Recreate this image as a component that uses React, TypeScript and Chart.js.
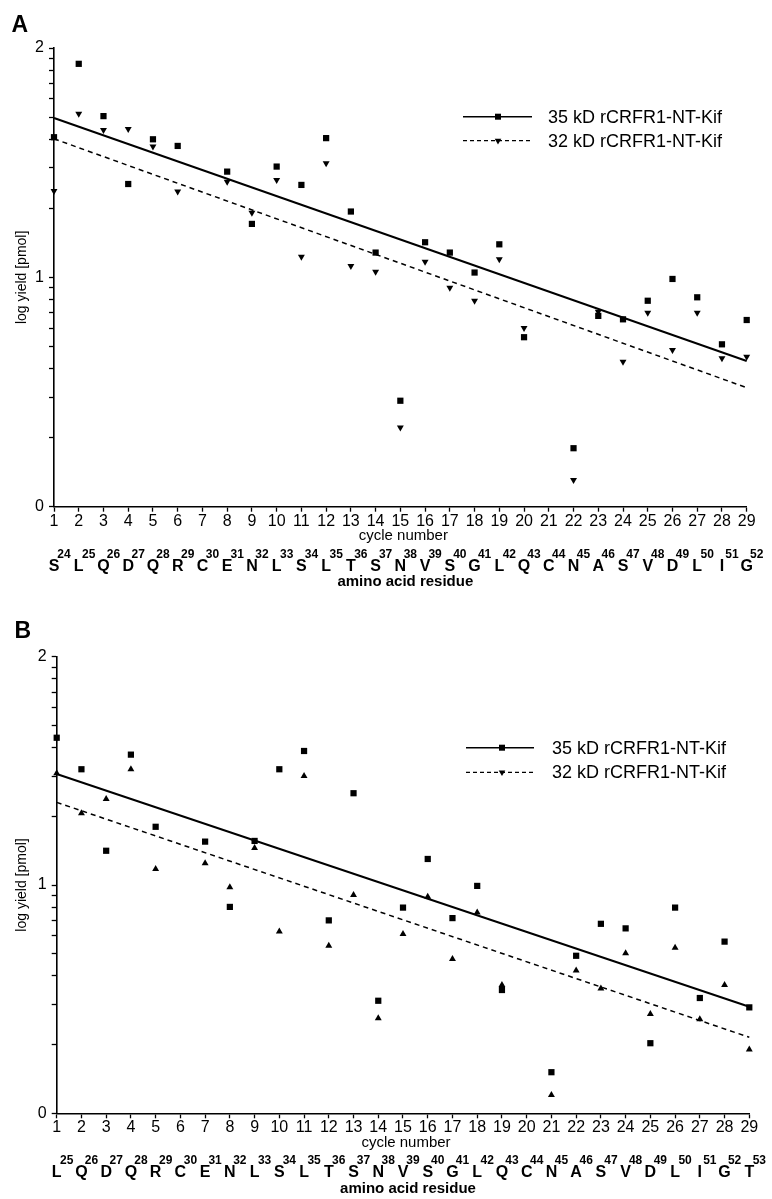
import React, { useEffect, useRef } from 'react';
import { Chart, registerables } from 'chart.js';

Chart.register(...registerables);

// ---------- data ----------
const cycles = [1, 2, 3, 4, 5, 6, 7, 8, 9, 10, 11, 12, 13, 14, 15, 16, 17, 18, 19, 20, 21, 22, 23, 24, 25, 26, 27, 28, 29];

const panelA35kD = [1.611, 1.931, 1.703, 1.407, 1.602, 1.573, null, 1.461, 1.233, 1.483, 1.403, 1.607, 1.287, 1.108, 0.462, 1.153, 1.108, 1.021, 1.144, 0.739, null, 0.255, 0.832, 0.817, 0.898, 0.993, 0.913, 0.708, 0.814];
const panelA32kD = [1.377, 1.713, 1.643, 1.647, 1.570, 1.374, null, 1.417, 1.282, 1.425, 1.090, 1.498, 1.050, 1.024, 0.345, 1.068, 0.955, 0.898, 1.079, 0.779, null, 0.116, 0.850, 0.632, 0.846, 0.683, 0.846, 0.647, 0.654];

const panelB35kD = [1.645, 1.507, 1.150, 1.571, 1.255, null, 1.190, 0.904, 1.193, 1.507, 1.587, 0.845, 1.402, 0.493, 0.901, 1.114, 0.855, 0.996, 0.540, null, 0.180, 0.690, 0.830, 0.810, 0.307, 0.901, 0.505, 0.752, 0.464];
const panelB32kD = [1.489, 1.314, 1.377, 1.507, 1.070, null, 1.095, 0.990, 1.162, 0.796, 1.477, 0.734, 0.956, 0.416, 0.785, 0.949, 0.676, 0.879, 0.562, null, 0.080, 0.625, 0.547, 0.701, 0.435, 0.725, 0.412, 0.562, 0.280];

// regression lines (endpoints)
const fitX = [1, 29];
const fitA35kD = [1.695, 0.635];
const fitA32kD = [1.604, 0.519];
const fitB35kD = [1.486, 0.467];
const fitB32kD = [1.362, 0.333];

const residuesA = ['S', 'L', 'Q', 'D', 'Q', 'R', 'C', 'E', 'N', 'L', 'S', 'L', 'T', 'S', 'N', 'V', 'S', 'G', 'L', 'Q', 'C', 'N', 'A', 'S', 'V', 'D', 'L', 'I', 'G'];
const residueNumbersA = [24, 25, 26, 27, 28, 29, 30, 31, 32, 33, 34, 35, 36, 37, 38, 39, 40, 41, 42, 43, 44, 45, 46, 47, 48, 49, 50, 51, 52];
const residuesB = ['L', 'Q', 'D', 'Q', 'R', 'C', 'E', 'N', 'L', 'S', 'L', 'T', 'S', 'N', 'V', 'S', 'G', 'L', 'Q', 'C', 'N', 'A', 'S', 'V', 'D', 'L', 'I', 'G', 'T'];
const residueNumbersB = [25, 26, 27, 28, 29, 30, 31, 32, 33, 34, 35, 36, 37, 38, 39, 40, 41, 42, 43, 44, 45, 46, 47, 48, 49, 50, 51, 52, 53];

const yMajorTicks = [0, 1, 2];
const yMinorMantissas = [2, 3, 4, 5, 6, 7, 8, 9];

const seriesLabels = ['35 kD rCRFR1-NT-Kif', '32 kD rCRFR1-NT-Kif'];
const yTitle = 'log yield [pmol]';
const xTitle = 'cycle number';
const residueTitle = 'amino acid residue';

// ---------- helpers ----------
const FONT = '"Liberation Sans", Arial, Helvetica, sans-serif';

const toPoints = (xs: number[], ys: (number | null)[]) =>
  xs.map((x, i) => ({ x, y: ys[i] })).filter((p) => p.y !== null);

const yTickValues = (() => {
  const out: number[] = [];
  for (const d of [0, 1]) {
    out.push(yMajorTicks[d]);
    for (const m of yMinorMantissas) out.push(d + Math.log10(m));
  }
  out.push(yMajorTicks[2]);
  return out;
})();

type PanelSpec = {
  letter: string;
  letterX: number;
  letterY: number;
  canvasHeight: number;
  top: number;
  bottom: number;
  left: number;
  right: number;
  sq: (number | null)[];
  tri: (number | null)[];
  triRotation: number;
  fit35: number[];
  fit32: number[];
  residues: string[];
  residueNumbers: number[];
  legendY: [number, number];
  legendLine: [number, number];
  legendMarker: number;
  legendText: number;
};

const W = 772;

function drawMarker(ctx: CanvasRenderingContext2D, style: string, x: number, y: number, rot: number) {
  ctx.beginPath();
  if (style === 'rect') {
    ctx.rect(x - 3, y - 3, 6, 6);
  } else {
    const r = 3.8;
    const a = (rot * Math.PI) / 180;
    for (let k = 0; k < 3; k++) {
      const ang = a + (k * 2 * Math.PI) / 3;
      const px = x + Math.sin(ang) * r;
      const py = y - Math.cos(ang) * r;
      if (k === 0) ctx.moveTo(px, py);
      else ctx.lineTo(px, py);
    }
    ctx.closePath();
  }
  ctx.fillStyle = '#000';
  ctx.fill();
}

function makeConfig(p: PanelSpec): any {
  const annotate = {
    id: 'annotate',
    afterDraw(chart: any) {
      const ctx: CanvasRenderingContext2D = chart.ctx;
      const area = chart.chartArea;
      const xs = chart.scales.x;
      const midX = (area.left + area.right) / 2;
      ctx.save();
      ctx.fillStyle = '#000';

      // panel letter
      ctx.font = `bold 23px ${FONT}`;
      ctx.textAlign = 'left';
      ctx.textBaseline = 'alphabetic';
      ctx.fillText(p.letter, p.letterX, p.letterY);

      // y title
      ctx.save();
      ctx.translate(22.5, (area.top + area.bottom) / 2);
      ctx.rotate(-Math.PI / 2);
      ctx.font = `14px ${FONT}`;
      ctx.textAlign = 'center';
      ctx.textBaseline = 'middle';
      ctx.fillText(yTitle, 0, 0);
      ctx.restore();

      // x title
      ctx.font = `15px ${FONT}`;
      ctx.textAlign = 'center';
      ctx.textBaseline = 'middle';
      ctx.fillText(xTitle, midX + 3, area.bottom + 29.5);

      // residues
      p.residues.forEach((r, i) => {
        const x = xs.getPixelForValue(cycles[i]);
        ctx.font = `bold 16px ${FONT}`;
        ctx.textAlign = 'center';
        ctx.fillText(r, x, area.bottom + 59.5);
        ctx.font = `bold 12px ${FONT}`;
        ctx.fillText(String(p.residueNumbers[i]), x + 10, area.bottom + 47.5);
      });

      ctx.font = `bold 15px ${FONT}`;
      ctx.textAlign = 'center';
      ctx.fillText(residueTitle, midX + 5, area.bottom + 75.5);

      // legend
      const styles = ['rect', 'triangle'];
      const dashes = [[], [4, 3]];
      for (let k = 0; k < 2; k++) {
        const y = p.legendY[k];
        ctx.beginPath();
        ctx.setLineDash(dashes[k]);
        ctx.lineWidth = k === 0 ? 1.6 : 1.3;
        ctx.strokeStyle = '#000';
        ctx.moveTo(p.legendLine[0], y);
        ctx.lineTo(p.legendLine[1], y);
        ctx.stroke();
        ctx.setLineDash([]);
        drawMarker(ctx, styles[k], p.legendMarker, y, 180);
        ctx.font = `18px ${FONT}`;
        ctx.textAlign = 'left';
        ctx.textBaseline = 'middle';
        ctx.fillStyle = '#000';
        ctx.fillText(seriesLabels[k], p.legendText, y + 1);
      }
      ctx.restore();
    },
  };

  return {
    type: 'scatter',
    data: {
      datasets: [
        {
          label: seriesLabels[0] + ' fit',
          data: toPoints(fitX, p.fit35),
          showLine: true,
          borderColor: '#000',
          borderWidth: 2,
          pointRadius: 0,
          clip: false,
          order: 3,
        },
        {
          label: seriesLabels[1] + ' fit',
          data: toPoints(fitX, p.fit32),
          showLine: true,
          borderColor: '#000',
          borderWidth: 1.5,
          borderDash: [5, 4],
          pointRadius: 0,
          clip: false,
          order: 4,
        },
        {
          label: seriesLabels[0],
          data: toPoints(cycles, p.sq),
          pointStyle: 'rect',
          pointRadius: 4.4,
          backgroundColor: '#000',
          borderColor: '#000',
          borderWidth: 0,
          clip: false,
          order: 1,
        },
        {
          label: seriesLabels[1],
          data: toPoints(cycles, p.tri),
          pointStyle: 'triangle',
          rotation: p.triRotation,
          pointRadius: 4,
          backgroundColor: '#000',
          borderColor: '#000',
          borderWidth: 0,
          clip: false,
          order: 2,
        },
      ],
    },
    options: {
      responsive: false,
      animation: false,
      devicePixelRatio: 1,
      layout: {
        padding: { left: 0, top: p.top, right: W - p.right, bottom: 0 },
      },
      plugins: {
        legend: { display: false },
        tooltip: { enabled: false },
        title: { display: false },
      },
      scales: {
        x: {
          type: 'linear',
          min: 1,
          max: 29,
          afterFit: (s: any) => {
            s.height = p.canvasHeight - p.bottom;
          },
          afterBuildTicks: (s: any) => {
            s.ticks = cycles.map((v) => ({ value: v }));
          },
          ticks: {
            autoSkip: false,
            maxRotation: 0,
            padding: 0,
            color: '#000',
            font: { family: FONT, size: 16 },
            callback: (v: number) => String(v),
          },
          grid: {
            display: true,
            drawOnChartArea: false,
            drawTicks: true,
            tickLength: 5,
            tickColor: '#000',
            tickWidth: 1.3,
          },
          border: { display: true, color: '#000', width: 1.6 },
        },
        y: {
          type: 'linear',
          min: 0,
          max: 2,
          afterFit: (s: any) => {
            s.width = p.left;
          },
          afterBuildTicks: (s: any) => {
            s.ticks = yTickValues.map((v) => ({ value: v }));
          },
          ticks: {
            autoSkip: false,
            padding: 5,
            color: '#000',
            font: { family: FONT, size: 16 },
            callback: (v: number) => (yMajorTicks.includes(v) ? String(v) : ''),
          },
          grid: {
            display: true,
            drawOnChartArea: false,
            drawTicks: true,
            tickLength: 5,
            tickColor: '#000',
            tickWidth: 1.3,
          },
          border: { display: true, color: '#000', width: 1.6 },
        },
      },
    },
    plugins: [annotate],
  };
}

const panelA: PanelSpec = {
  letter: 'A',
  letterX: 11.5,
  letterY: 31.7,
  canvasHeight: 600,
  top: 48,
  bottom: 506.7,
  left: 54,
  right: 746.7,
  sq: panelA35kD,
  tri: panelA32kD,
  triRotation: 180,
  fit35: fitA35kD,
  fit32: fitA32kD,
  residues: residuesA,
  residueNumbers: residueNumbersA,
  legendY: [116.7, 140.7],
  legendLine: [463, 532],
  legendMarker: 498,
  legendText: 548,
};

const panelB: PanelSpec = {
  letter: 'B',
  letterX: 14.5,
  letterY: 38,
  canvasHeight: 599,
  top: 56.7,
  bottom: 513.3,
  left: 56.7,
  right: 749.3,
  sq: panelB35kD,
  tri: panelB32kD,
  triRotation: 0,
  fit35: fitB35kD,
  fit32: fitB32kD,
  residues: residuesB,
  residueNumbers: residueNumbersB,
  legendY: [147.7, 172.3],
  legendLine: [466, 534],
  legendMarker: 502,
  legendText: 552,
};

function Panel({ spec, top }: { spec: PanelSpec; top: number }) {
  const ref = useRef<HTMLCanvasElement | null>(null);
  useEffect(() => {
    if (!ref.current) return;
    const chart = new Chart(ref.current, makeConfig(spec));
    return () => chart.destroy();
  }, [spec]);
  return (
    <canvas
      ref={ref}
      width={W}
      height={spec.canvasHeight}
      style={{ position: 'absolute', left: 0, top, width: W, height: spec.canvasHeight, display: 'block' }}
    />
  );
}

export default function App() {
  return (
    <div style={{ position: 'absolute', left: 0, top: 0, width: W, height: 1199, background: '#fff' }}>
      <Panel spec={panelA} top={0} />
      <Panel spec={panelB} top={600} />
    </div>
  );
}
